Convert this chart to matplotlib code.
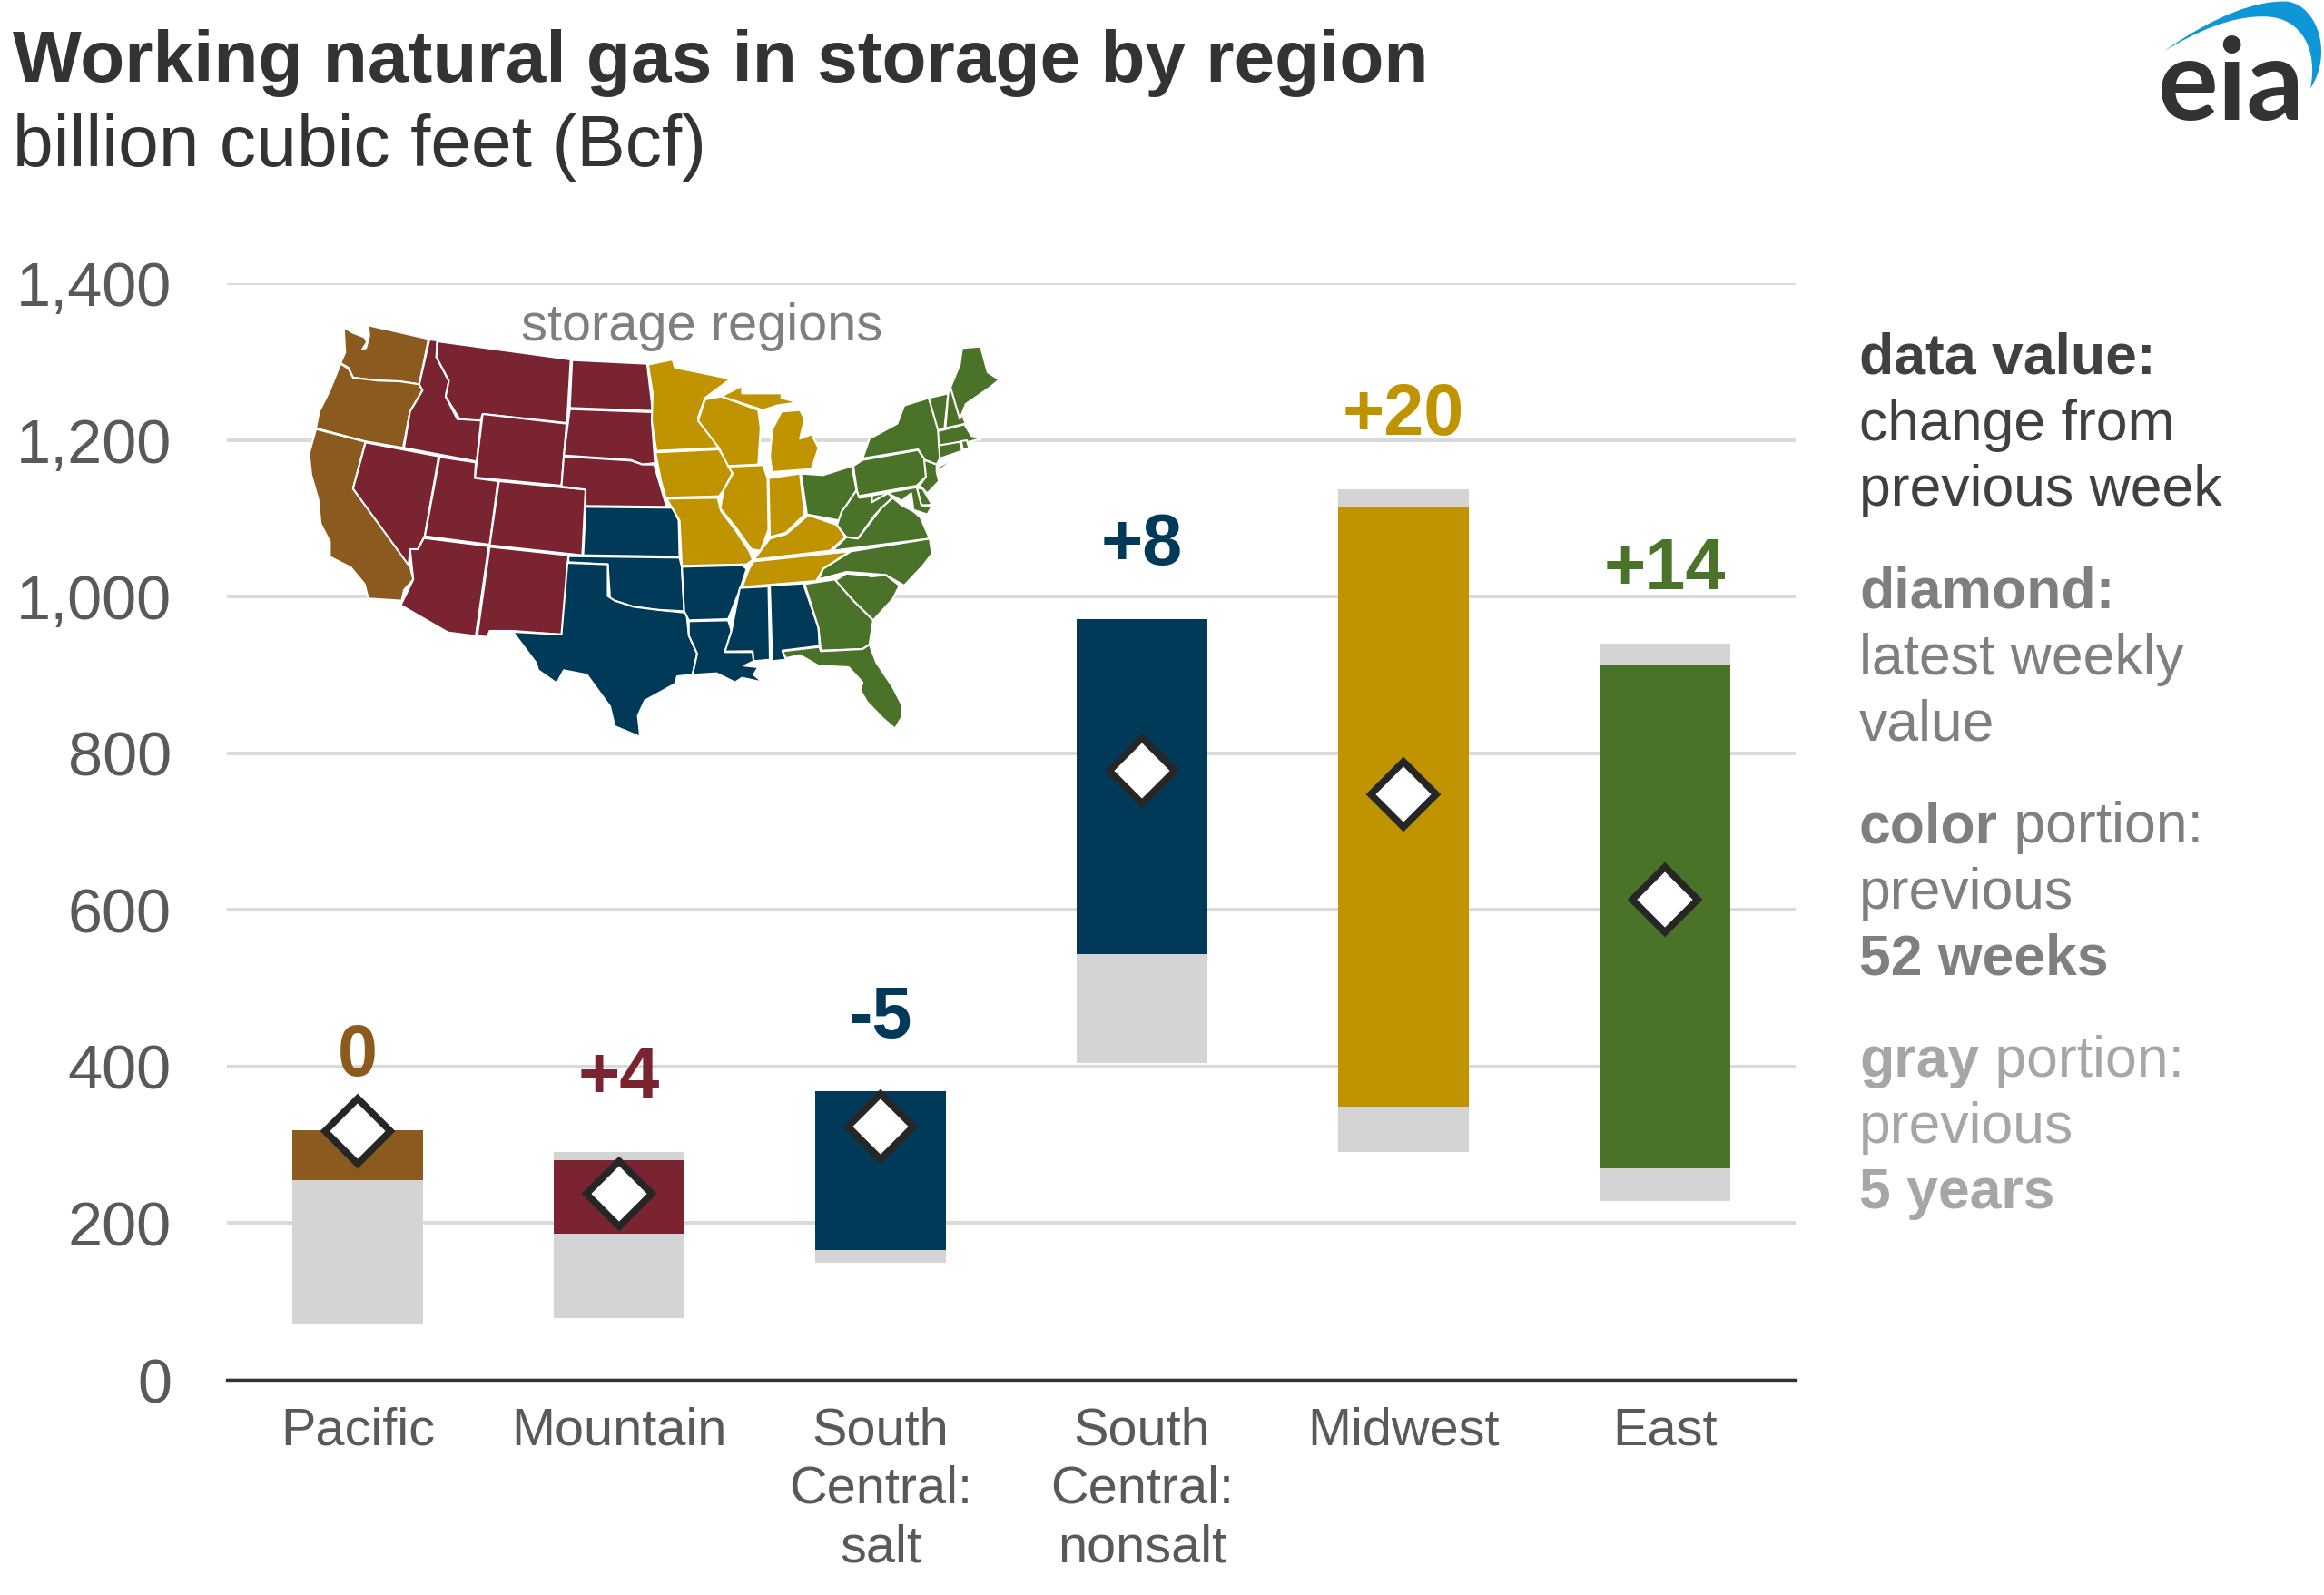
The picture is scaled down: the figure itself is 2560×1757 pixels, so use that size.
import matplotlib
matplotlib.use("Agg")
import matplotlib.pyplot as plt
from matplotlib.patches import Polygon, PathPatch
from matplotlib.path import Path

W, H = 2560, 1757
plt.rcParams['font.family'] = ['Liberation Sans', 'DejaVu Sans']

categories = ['Pacific', 'Mountain', 'South\nCentral:\nsalt', 'South\nCentral:\nnonsalt', 'Midwest', 'East']
five_low = [71, 79, 149, 404, 291, 228]
five_high = [319, 291, 368, 971, 1137, 940]
year_low = [255, 187, 166, 543, 349, 270]
year_high = [319, 281, 368, 971, 1115, 912]
latest = [317, 238, 323, 778, 747, 613]
changes = ['0', '+4', '-5', '+8', '+20', '+14']
yticks = [0, 200, 400, 600, 800, 1000, 1200, 1400]

BROWN, MAROON, NAVY, GOLD, GREEN = '#8B5A1E', '#7A2331', '#003A58', '#C09400', '#4A7229'
bar_colors = [BROWN, MAROON, NAVY, NAVY, GOLD, GREEN]
GRAY = '#D4D4D4'
DARK = '#333333'

# state outlines of the inset map, traced in inset coordinates
pacific_states = [
    [(115,92),(135,110),(160,125),(165,140),(155,165),(163,160),(170,120),(168,85),(298,130),(278,280),(235,270),(190,268),(135,258),(125,225),(108,210),(118,175)],
    [(108,212),(125,228),(135,258),(190,268),(235,270),(278,280),(285,300),(258,370),(243,490),(160,468),(55,425),(62,370),(85,300)],
    [(55,428),(162,470),(135,625),(258,880),(265,925),(245,960),(240,995),(168,988),(160,940),(130,885),(85,850),(85,800),(65,740),(60,660),(45,580),(40,510)],
]
mountain_states = [
    [(162,472),(320,518),(290,780),(275,825),(258,825),(255,878),(135,625)],
    [(300,132),(317,135),(315,190),(342,270),(335,320),(360,395),(412,395),(402,535),(245,490),(258,370),(285,300),(278,280)],
    [(317,138),(605,198),(597,408),(415,378),(410,400),(365,395),(335,320),(342,268),(315,190)],
    [(415,378),(596,410),(585,615),(398,588)],
    [(322,520),(400,538),(398,590),(448,600),(430,810),(290,782)],
    [(450,600),(637,628),(630,845),(430,812)],
    [(288,788),(428,815),(400,1112),(340,1100),(238,1010),(265,925),(258,825),(275,825)],
    [(430,817),(600,845),(587,1107),(480,1095),(430,1095),(425,1115),(403,1112)],
    [(608,200),(770,212),(782,368),(603,358)],
    [(603,362),(782,372),(780,400),(787,540),(760,545),(735,530),(590,515)],
    [(590,518),(735,532),(760,545),(785,545),(812,685),(637,682),(637,628),(585,618)],
]
south_states = [
    [(637,685),(825,688),(838,730),(840,850),(632,845)],
    [(600,848),(840,853),(845,885),(850,1030),(790,1025),(740,1015),(690,990),(685,875),(600,868)],
    [(598,870),(685,875),(685,980),(700,995),(740,1015),(790,1025),(855,1035),(860,1110),(878,1170),(868,1240),(835,1245),(830,1270),(765,1325),(750,1375),(755,1445),(700,1410),(690,1345),(640,1240),(590,1225),(575,1268),(535,1225),(530,1200),(480,1098),(585,1107)],
    [(860,1063),(945,1060),(952,1095),(938,1165),(998,1165),(1000,1195),(980,1210),(1010,1215),(1000,1240),(1020,1265),(975,1250),(960,1265),(920,1235),(868,1240),(878,1170),(860,1110)],
    [(845,883),(975,878),(985,890),(970,960),(945,1056),(860,1060),(850,1030)],
    [(970,953),(1032,948),(1035,1190),(1000,1195),(998,1162),(938,1163),(952,1095)],
    [(1035,945),(1107,938),(1140,1085),(1142,1145),(1062,1160),(1070,1190),(1040,1195)],
]
midwest_states = [
    [(772,215),(825,198),(830,225),(880,240),(950,262),(895,325),(880,390),(925,490),(790,500),(780,400),(782,310)],
    [(788,505),(925,495),(955,570),(935,630),(925,650),(810,655),(800,600)],
    [(812,658),(922,655),(930,700),(960,760),(990,830),(998,860),(985,875),(845,880),(840,730)],
    [(895,330),(930,320),(1010,365),(1015,425),(1010,545),(945,550),(925,490),(880,400)],
    [(945,552),(1020,547),(1030,590),(1032,760),(1015,830),(995,825),(960,750),(928,690),(935,630),(955,575)],
    [(1032,590),(1100,575),(1110,710),(1070,770),(1035,785)],
    [(930,320),(975,285),(975,310),(1060,310),(1060,325),(1095,340),(1050,350),(1020,365),(1010,360)],
    [(1040,570),(1035,520),(1040,430),(1060,370),(1100,365),(1110,395),(1100,460),(1125,445),(1140,490),(1125,560)],
    [(1118,712),(1180,745),(1198,785),(1165,830),(1000,860),(1015,830),(1035,790),(1070,775)],
    [(1000,865),(1208,832),(1150,890),(1135,930),(975,950),(990,890)],
]
east_states = [
    [(1102,575),(1150,580),(1212,550),(1222,630),(1200,680),(1185,730),(1150,720),(1115,710)],
    [(1215,550),(1235,530),(1355,497),(1370,530),(1372,585),(1352,615),(1225,650)],
    [(1235,525),(1250,460),(1310,410),(1325,350),(1378,325),(1400,430),(1402,525),(1395,545),(1370,530),(1355,495)],
    [(1400,552),(1450,510),(1402,562)],
    [(1378,325),(1420,310),(1412,425),(1398,432)],
    [(1425,290),(1458,410),(1414,425),(1420,310)],
    [(1450,160),(1490,155),(1505,240),(1530,265),(1510,290),(1458,345),(1445,395),(1425,290),(1445,215)],
    [(1398,435),(1455,412),(1470,450),(1490,460),(1465,470),(1400,482)],
    [(1400,482),(1445,470),(1450,500),(1402,525)],
    [(1448,468),(1460,465),(1465,490),(1452,497)],
    [(1368,530),(1395,545),(1395,570),(1400,600),(1375,640),(1358,615),(1372,585)],
    [(1352,622),(1365,625),(1385,678),(1362,680)],
    [(1228,655),(1352,620),(1362,680),(1385,682),(1375,710),(1345,695),(1340,640),(1320,665),(1290,640),(1255,670),(1255,650)],
    [(1222,630),(1228,655),(1255,650),(1255,670),(1290,640),(1300,655),(1275,690),(1260,715),(1225,790),(1200,785),(1180,745),(1190,700),(1200,680)],
    [(1300,655),(1320,680),(1345,700),(1360,720),(1380,790),(1170,830),(1200,785),(1225,790),(1260,720),(1275,690)],
    [(1380,790),(1385,840),(1365,880),(1325,945),(1285,910),(1245,905),(1200,900),(1140,925),(1150,890),(1210,832)],
    [(1175,930),(1200,905),(1245,912),(1255,915),(1285,910),(1315,945),(1300,990),(1258,1060),(1215,995)],
    [(1110,940),(1175,925),(1215,995),(1258,1060),(1250,1140),(1235,1155),(1145,1160),(1140,1085)],
    [(1062,1162),(1142,1148),(1145,1162),(1235,1155),(1250,1140),(1265,1200),(1300,1280),(1320,1340),(1320,1380),(1305,1418),(1280,1385),(1245,1330),(1230,1290),(1235,1265),(1205,1215),(1140,1210),(1100,1175),(1070,1185)],
]

fig = plt.figure(figsize=(W/100, H/100), dpi=100, facecolor='white')

def fx(x): return x/W
def fy(y): return 1-y/H

# main axes
ax = fig.add_axes([fx(250), fy(1520), (1978-250)/W, (1520-312)/H])
ax.set_xlim(-0.5, 5.5)
ax.set_ylim(0, 1400)
for s in ['top', 'right', 'left']:
    ax.spines[s].set_visible(False)
ax.spines['bottom'].set_color(DARK)
ax.spines['bottom'].set_linewidth(2.4)
ax.set_yticks(yticks)
ax.set_yticklabels([f'{v:,}' for v in yticks], fontsize=49.2, color='#595959')
ax.set_xticks(range(len(categories)))
ax.set_xticklabels(categories, fontsize=41.5, color='#595959', linespacing=1.25)
ax.tick_params(axis='y', length=0, pad=44)
ax.tick_params(axis='x', length=0, pad=21)
ax.set_axisbelow(True)
ax.yaxis.grid(True, color='#D9D9D9', lw=2.8)
ax.xaxis.grid(False)

x = list(range(len(categories)))
ax.bar(x, [h-l for h, l in zip(five_high, five_low)], bottom=five_low, width=0.5, color=GRAY, zorder=2)
ax.bar(x, [h-l for h, l in zip(year_high, year_low)], bottom=year_low, width=0.5, color=bar_colors, zorder=3)
ax.plot(x, latest, ls='none', marker='D', ms=37, mfc='white', mec='#262626', mew=5.5, zorder=4, clip_on=False)
for xi, top, lab, col in zip(x, five_high, changes, bar_colors):
    ax.annotate(lab, (xi, top), xytext=(0, 43), textcoords='offset points', ha='center', va='baseline',
                fontsize=57, fontweight='bold', color=col, zorder=5)

# inset map
mp = fig.add_axes([fx(320), fy(830), 800/W, 500/H])
mp.set_xlim(0, 1568)
mp.set_ylim(1500, 0)
mp.axis('off')
mp.patch.set_alpha(0)
for states, col in [(pacific_states, BROWN), (mountain_states, MAROON), (south_states, NAVY),
                    (midwest_states, GOLD), (east_states, GREEN)]:
    for pts in states:
        mp.add_patch(Polygon(pts, closed=True, fc=col, ec='white', lw=1.5, joinstyle='round'))
fig.text(fx(773), fy(375), 'storage regions', fontsize=41.6, color='#7F7F7F', ha='center', va='baseline')

# titles
fig.text(fx(14), fy(90), 'Working natural gas in storage by region', fontsize=57.8, fontweight='bold',
         color=DARK, va='baseline')
fig.text(fx(14), fy(183), 'billion cubic feet (Bcf)', fontsize=57.9, color=DARK, va='baseline')

# right-hand key
KX = 2048
D1, D2, D3 = '#404040', '#7F7F7F', '#A6A6A6'
key_lines = [
    (412, [('data value:', 'bold')], D1),
    (485, [('change from', 'normal')], D1),
    (557, [('previous week', 'normal')], D1),
    (670, [('diamond:', 'bold')], D2),
    (743, [('latest weekly', 'normal')], D2),
    (815, [('value', 'normal')], D2),
    (928, [('color', 'bold'), (' portion:', 'normal')], D2),
    (1001, [('previous', 'normal')], D2),
    (1073, [('52 weeks', 'bold')], D2),
    (1186, [('gray', 'bold'), (' portion:', 'normal')], D3),
    (1259, [('previous', 'normal')], D3),
    (1331, [('5 years', 'bold')], D3),
]
for yy, parts, col in key_lines:
    prev = None
    for txt, wt in parts:
        if prev is None:
            prev = fig.text(fx(KX), fy(yy), txt, fontsize=45, fontweight=wt, color=col, va='baseline')
        else:
            prev = ax.annotate(txt, xy=(1, 0), xycoords=prev, fontsize=45, fontweight=wt, color=col,
                               va='bottom', ha='left', annotation_clip=False)

# logo
lg = fig.add_axes([fx(2340), fy(150), 220/W, 150/H])
lg.set_xlim(0, 660)
lg.set_ylim(450, 0)
lg.axis('off')
lg.patch.set_alpha(0)
swoosh = Path([(130,170),(300,50),(440,0),(540,5),(640,20),(690,180),(615,292),
               (640,170),(590,60),(470,55),(350,50),(230,110),(130,170)],
              [Path.MOVETO, Path.CURVE4, Path.CURVE4, Path.CURVE4, Path.CURVE4, Path.CURVE4, Path.CURVE4,
               Path.CURVE4, Path.CURVE4, Path.CURVE4, Path.CURVE4, Path.CURVE4, Path.CURVE4])
lg.add_patch(PathPatch(swoosh, fc='#0F96D6', ec='none'))
lg.text(353, 395, 'eia', fontsize=90, family='Lato', fontweight='bold', color='#333333', ha='center', va='baseline')

fig.savefig('out.png', dpi=100, facecolor='white')
